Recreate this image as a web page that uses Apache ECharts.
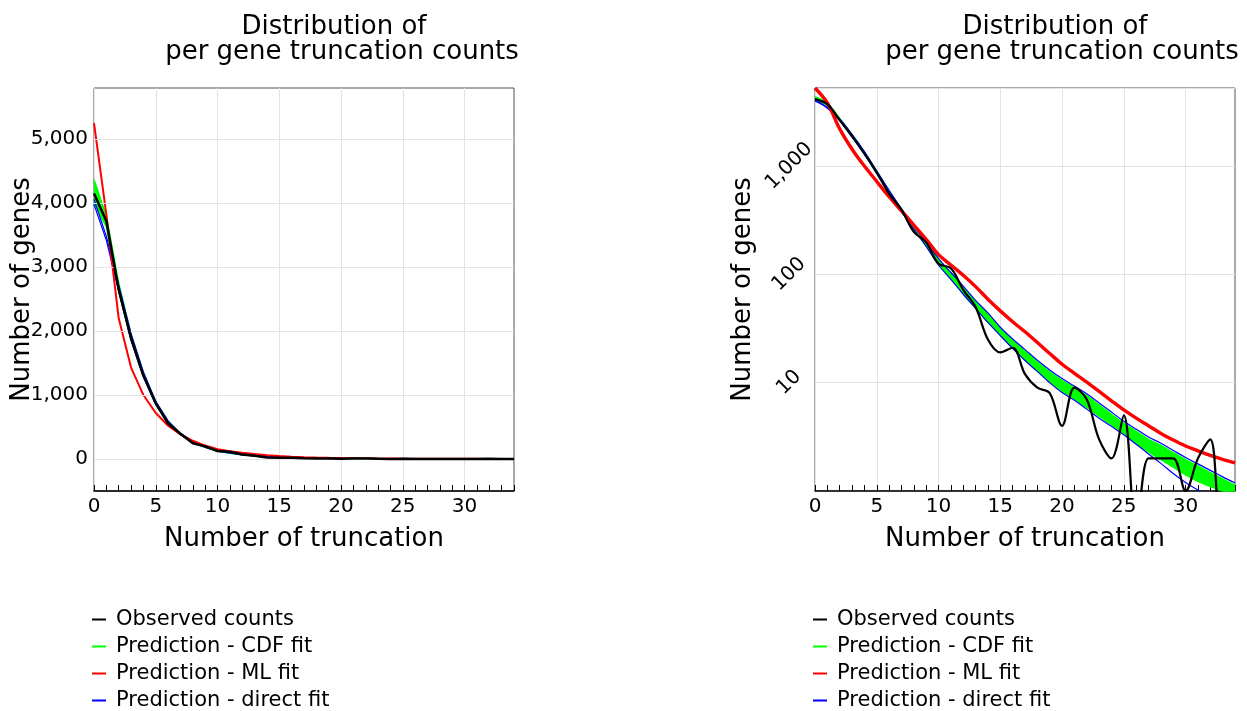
<!DOCTYPE html>
<html><head><meta charset="utf-8">
<script src="https://cdn.jsdelivr.net/npm/echarts@6/dist/echarts.min.js"></script>
<style>html,body{margin:0;padding:0;background:#fff}#c{width:1247px;height:711px}</style>
</head><body><div id="c"></div>
<script>
// ---------------- data ----------------
const truncations = [0,1,2,3,4,5,6,7,8,9,10,11,12,13,14,15,16,17,18,19,20,21,22,23,24,25,26,27,28,29,30,31,32,33,34];
const observed    = [4150,3720,2650,1890,1300,875,555,395,247,197,125,114,72,50,25,19,21,12,9,8,4,9,7,3,2,5,0,2,2,2,1,2,3,0,0];
const cdfUpper    = [4365,3800,2750,1950,1350,890,590,398,275,195,138,102,76,56,42.7,31.6,24.5,19.5,15.5,12.6,10.5,9.0,7.6,6.2,5.1,4.2,3.55,3.0,2.63,2.26,1.95,1.70,1.48,1.29,1.13];
const cdfLower    = [4000,3630,2630,1860,1290,850,562,380,263,182,123,91,66,49,36.3,27.5,20.9,16.2,12.9,10.2,8.3,7.1,5.9,4.9,4.1,3.4,2.75,2.3,1.95,1.66,1.41,1.23,1.10,1.0,0.91];
const mlFit       = [5250,3820,2200,1430,1000,720,520,385,285,210,152,122,98,77,59,46,36.5,29.5,23.5,18.6,14.8,12.2,10.1,8.3,6.8,5.6,4.7,4.0,3.4,2.95,2.6,2.35,2.13,1.96,1.82];
const directUpper = [4060,3480,2720,1960,1360,900,596,402,278,198,140,104,78,57.5,44,32.5,25.3,20.2,16.1,13.1,10.9,9.3,7.9,6.5,5.35,4.4,3.72,3.15,2.76,2.37,2.04,1.78,1.55,1.35,1.19];
const directLower = [3980,3420,2620,1850,1285,848,560,378,262,181,122,90,65.5,48.5,36,27.2,20.7,16,12.7,10,8.1,6.9,5.7,4.7,3.95,3.3,2.7,2.2,1.8,1.45,1.2,1.02,0.86,0.74,0.63];

const xLabelStep      = 5;                         // x tick labels: 0,5,10,...,30
const linYTickLabels  = [0,1000,2000,3000,4000,5000];
const logYTickLabels  = [10,100,1000];
const logYMinorTicks  = [5,50,500,5000];
const legendNames = ['Observed counts','Prediction - CDF fit','Prediction - ML fit','Prediction - direct fit'];
const titleLines = ['Distribution of','per gene truncation counts'];
const xName = 'Number of truncation';
const yName = 'Number of genes';
// zero counts cannot be shown on a log axis: they are drawn below the axis floor (clipped)
const LOG_FLOOR = 0.4;

// ---------------- helpers ----------------
const FONT = 'DejaVu Sans';
const fmt = v => Math.round(v).toLocaleString('en-US');
const cdfDiff = cdfUpper.map((u, i) => u - cdfLower[i]);
const obsLog = observed.map(v => v > 0 ? v : LOG_FLOOR);
const GREEN = '#00ff00', RED = '#ff0000', BLUE = '#0000ff', GRIDC = '#e3e3e3';

function xAxisFor(gi) {
  return { gridIndex: gi, type: 'category', data: truncations.map(String), boundaryGap: false, position: 'bottom',
    axisLine: { onZero: false, lineStyle: { color: '#000', width: 1.5 } },
    axisTick: { inside: true, length: 6, interval: 0, lineStyle: { color: '#000', width: 1 } },
    axisLabel: { interval: xLabelStep - 1, fontSize: 20, color: '#000', fontFamily: FONT, margin: 6 },
    splitLine: { show: true, interval: xLabelStep - 1, lineStyle: { color: GRIDC, width: 1 } },
    name: xName, nameLocation: 'middle', nameGap: 35, nameMoveOverlap: false,
    nameTextStyle: { fontSize: 26, color: '#000', fontFamily: FONT } };
}

function seriesFor(gi, yi, logMode) {
  const sm = logMode ? 0.35 : false;
  const base = { type: 'line', xAxisIndex: gi, yAxisIndex: yi, symbol: 'none', smooth: sm, silent: true };
  const s = [
    Object.assign({}, base, { name: legendNames[1], data: cdfLower, stack: 'cdf' + gi,
      lineStyle: { color: GREEN, width: 1.5 }, z: 2 }),
    Object.assign({}, base, { name: legendNames[1], data: cdfDiff, stack: 'cdf' + gi,
      lineStyle: { color: GREEN, width: 1.5 }, areaStyle: { color: GREEN, opacity: 1 }, z: 2 }),
    Object.assign({}, base, { name: legendNames[3], data: directUpper,
      lineStyle: { color: BLUE, width: 1.2 }, z: 3 }),
    Object.assign({}, base, { name: legendNames[3], data: directLower,
      lineStyle: { color: BLUE, width: 1.2 }, z: 3 }),
    Object.assign({}, base, { name: legendNames[2], data: mlFit,
      lineStyle: { color: RED, width: logMode ? 3.4 : 2 }, z: 4 }),
    Object.assign({}, base, { name: legendNames[0], data: logMode ? obsLog : observed,
      lineStyle: { color: '#000', width: logMode ? 2.2 : 2.5 }, z: 5 })
  ];
  if (!logMode) {
    s[0].markLine = { silent: true, symbol: ['none', 'none'], label: { show: false }, animation: false,
      lineStyle: { color: GRIDC, width: 1, type: 'solid' }, emphasis: { disabled: true },
      data: linYTickLabels.map(v => ({ yAxis: v })) };
  }
  return s;
}

function legendAt(left) {
  return { left: left, top: 609, orient: 'vertical', icon: 'rect', itemWidth: 14, itemHeight: 2,
    itemGap: 6, padding: 0, selectedMode: false,
    textStyle: { fontSize: 21, lineHeight: 21, color: '#000', fontFamily: FONT, padding: [0, 0, 0, 5] },
    data: [
      { name: legendNames[0], itemStyle: { color: '#000' } },
      { name: legendNames[1], itemStyle: { color: GREEN } },
      { name: legendNames[2], itemStyle: { color: RED } },
      { name: legendNames[3], itemStyle: { color: BLUE } }
    ] };
}

function titleText(x1, x2) {
  return [
    { type: 'text', x: x1, y: 27, style: { text: titleLines[0], font: '26px "' + FONT + '"', align: 'center', verticalAlign: 'middle', fill: '#000' } },
    { type: 'text', x: x2, y: 52, style: { text: titleLines[1], font: '26px "' + FONT + '"', align: 'center', verticalAlign: 'middle', fill: '#000' } }
  ];
}

const yNameCommon = { name: yName, nameLocation: 'middle', nameGap: 59, nameMoveOverlap: false,
  nameTextStyle: { fontSize: 26, color: '#000', fontFamily: FONT } };

const option = {
  animation: false,
  backgroundColor: '#fff',
  textStyle: { fontFamily: FONT },
  graphic: titleText(334, 342).concat(titleText(1055, 1062)),
  legend: [legendAt(92), legendAt(813)],
  grid: [
    { left: 94, top: 88, width: 420, height: 403, show: true, borderColor: '#555', borderWidth: 1, backgroundColor: 'transparent' },
    { left: 815, top: 88, width: 420, height: 403, show: true, borderColor: '#555', borderWidth: 1, backgroundColor: 'transparent' }
  ],
  xAxis: [xAxisFor(0), xAxisFor(1)],
  yAxis: [
    Object.assign({ gridIndex: 0, type: 'value', min: -500, max: 5800, interval: 250,
      axisLine: { lineStyle: { color: '#000', width: 1.5 } },
      axisTick: { inside: true, length: 6, lineStyle: { color: '#000' } },
      axisLabel: { formatter: v => linYTickLabels.includes(v) ? fmt(v) : '', fontSize: 20, color: '#000', fontFamily: FONT, margin: 6 },
      splitLine: { show: false } }, yNameCommon),
    Object.assign({ gridIndex: 1, type: 'log', logBase: 10, min: 1, max: 5250,
      axisLine: { lineStyle: { color: '#000', width: 1.5 } },
      axisTick: { inside: true, length: 6, lineStyle: { color: '#000' } },
      axisLabel: { formatter: v => logYTickLabels.includes(Math.round(v)) ? fmt(v) : '', rotate: 45,
        align: 'center', verticalAlign: 'middle',
        showMinLabel: false, showMaxLabel: false, fontSize: 20, color: '#000', fontFamily: FONT, margin: 26 },
      splitLine: { show: true, lineStyle: { color: GRIDC, width: 1 } } }, yNameCommon),
    { gridIndex: 1, type: 'log', logBase: 10, min: 1, max: 5250,
      axisLine: { show: false },
      axisTick: { inside: true, length: 6, lineStyle: { color: '#000' }, customValues: logYMinorTicks },
      axisLabel: { show: false }, splitLine: { show: false } }
  ],
  series: seriesFor(0, 0, false).concat(seriesFor(1, 1, true))
};

const chart = echarts.init(document.getElementById('c'), null, { renderer: 'canvas' });
chart.setOption(option);
</script></body></html>
